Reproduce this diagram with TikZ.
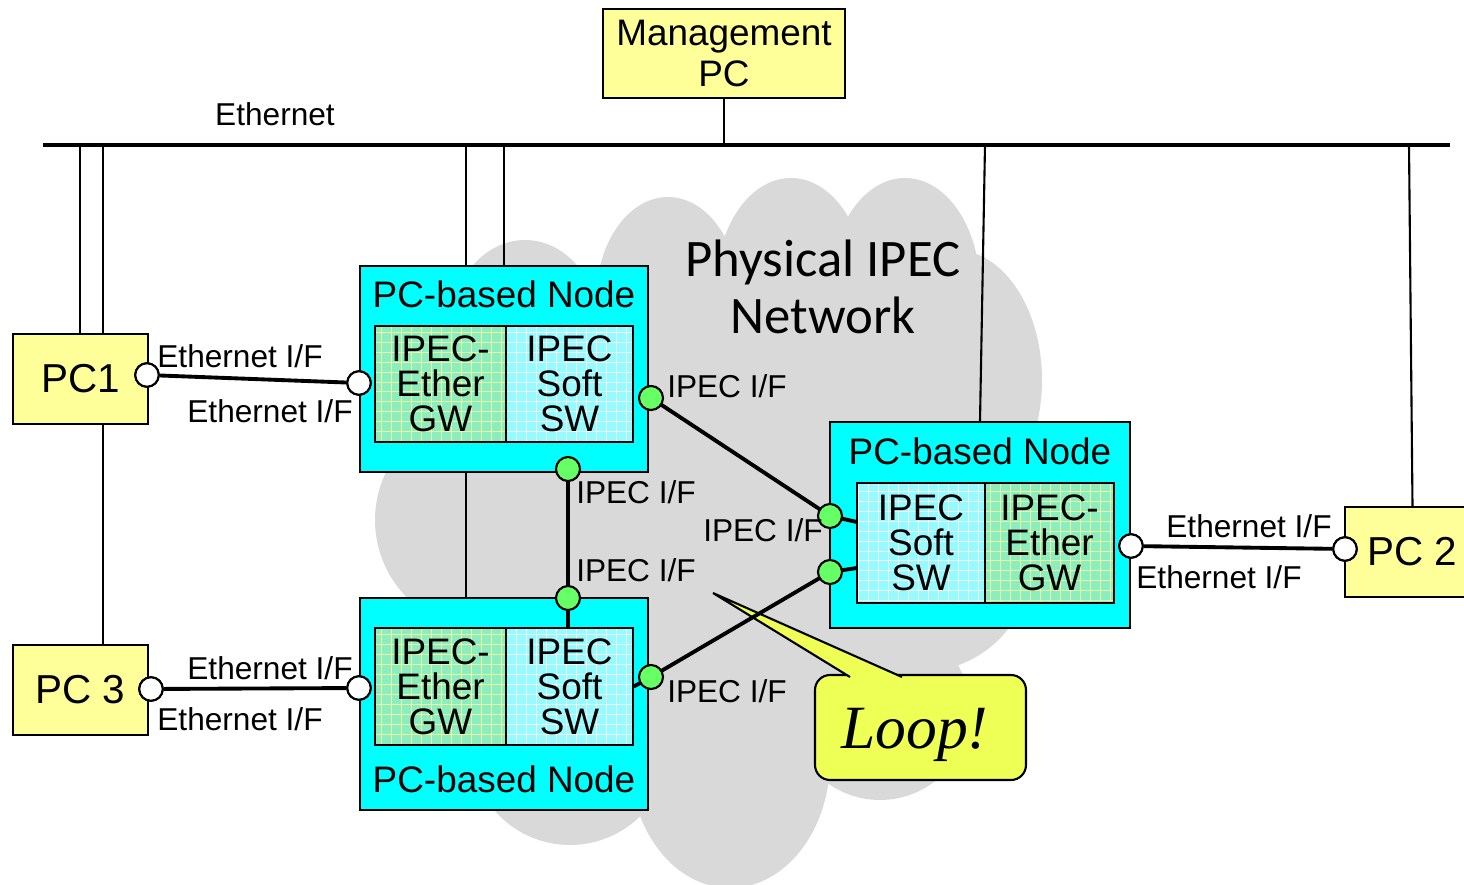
\documentclass[tikz,border=0pt]{standalone}
\usepackage{fontspec}
\setmainfont{Liberation Sans}
\newfontfamily\cloudfont{Carlito}
\newfontfamily\loopserif{Liberation Serif}

\definecolor{pcyellow}{RGB}{255,255,153}
\definecolor{nodecyan}{RGB}{0,255,255}
\definecolor{gwgreen}{RGB}{140,238,190}
\definecolor{gwgrid}{RGB}{235,250,160}
\definecolor{swcyan}{RGB}{150,250,255}
\definecolor{swgrid}{RGB}{235,255,255}
\definecolor{portgreen}{RGB}{102,255,102}
\definecolor{cloudgray}{RGB}{217,217,217}
\definecolor{loopyellow}{RGB}{238,255,85}

\newcommand{\lblfnt}{\fontsize{18}{20}\selectfont}
\newcommand{\pcfnt}{\fontsize{23}{26}\selectfont}
\newcommand{\mgmtfnt}{\fontsize{21}{23}\selectfont}
\newcommand{\titlefnt}{\fontsize{21}{22}\selectfont}
\newcommand{\partfnt}{\fontsize{21}{20}\selectfont}
\newcommand{\netfnt}{\cloudfont\fontsize{30}{32.5}\selectfont}
\newcommand{\loopfnt}{\loopserif\itshape\fontsize{35}{38}\selectfont}

\tikzset{
  pcbox/.style={draw, line width=0.9pt, fill=pcyellow, align=center, inner sep=0pt},
  nodebox/.style={draw, line width=0.9pt, fill=nodecyan, inner sep=0pt},
  gwbox/.style={draw, line width=0.9pt, fill=gwgreen, align=center, font=\partfnt, inner sep=0pt,
    path picture={\draw[gwgrid, line width=0.4pt] (path picture bounding box.south west) grid[step=0.2cm] (path picture bounding box.north east);}},
  swbox/.style={draw, line width=0.9pt, fill=swcyan, align=center, font=\partfnt, inner sep=0pt,
    path picture={\draw[swgrid, line width=0.4pt] (path picture bounding box.south west) grid[step=0.2cm] (path picture bounding box.north east);}},
  titletxt/.style={font=\titlefnt, inner sep=0pt},
  lbl/.style={font=\lblfnt, inner sep=0pt},
  ethport/.style={circle, draw, line width=1.2pt, fill=white, minimum size=0.47cm, inner sep=0pt},
  ipecport/.style={circle, draw, line width=1.2pt, fill=portgreen, minimum size=0.48cm, inner sep=0pt},
  bus/.style={line width=2.8pt},
  drop/.style={line width=1.2pt},
  link/.style={line width=2.2pt},
  loopbox/.style={draw, line width=1.2pt, fill=loopyellow, rounded corners=0.3cm, inner sep=0pt}
}

\begin{document}
\begin{tikzpicture}[x=0.02cm, y=-0.02cm]
  \useasboundingbox (0,0) rectangle (1464,885);

  % cloud
  \fill[cloudgray] (525,330) ellipse [x radius=1.5cm, y radius=1.8cm]
                   (668,300) ellipse [x radius=1.44cm, y radius=2.06cm]
                   (791,288) ellipse [x radius=1.5cm, y radius=2.2cm]
                   (905,288) ellipse [x radius=1.5cm, y radius=2.2cm]
                   (955,380) ellipse [x radius=1.74cm, y radius=2.6cm]
                   (485,520) circle [radius=2.2cm]
                   (570,745) circle [radius=2cm]
                   (730,760) ellipse [x radius=2cm, y radius=2.56cm]
                   (880,710) circle [radius=1.8cm]
                   (920,560) circle [radius=2.24cm];
  \fill[cloudgray] (480,300) rectangle (930,760);
  \node[font=\netfnt, align=center, inner sep=0pt] (net) at (823,287) {Physical IPEC\\Network};

  % ethernet bus
  \coordinate (busL) at (43,145);
  \coordinate (busR) at (1450,145);
  \draw[bus] (busL) -- (busR);
  \node[lbl] (ether) at (275,114) {Ethernet};

  \coordinate (b1) at (80,145);
  \coordinate (b2) at (103,145);
  \coordinate (b3) at (466,145);
  \coordinate (b4) at (504,145);
  \coordinate (b6) at (985,145);
  \coordinate (b7) at (1409,145);

  % PCs
  \node[pcbox, font=\mgmtfnt, minimum width=4.84cm, minimum height=1.78cm] (mgmt) at (724,53.5) {Management\\PC};
  \node[pcbox, font=\pcfnt, minimum width=2.7cm, minimum height=1.8cm] (pc1) at (80.5,379) {PC1};
  \node[pcbox, font=\pcfnt, minimum width=2.7cm, minimum height=1.8cm] (pc3) at (80.5,690) {PC 3};
  \node[pcbox, font=\pcfnt, minimum width=2.7cm, minimum height=1.8cm] (pc2) at (1412.5,552) {PC 2};

  % PC-based nodes
  \node[nodebox, minimum width=5.76cm, minimum height=4.12cm] (n1) at (504,369) {};
  \node[nodebox, minimum width=5.76cm, minimum height=4.24cm] (n2) at (504,704) {};
  \node[nodebox, minimum width=6cm, minimum height=4.12cm] (n3) at (980,525) {};

  \draw[drop] (mgmt.south) -- (mgmt.south |- busL);
  \draw[drop] (b1) -- (b1 |- pc1.north);
  \draw[drop] (b2) -- (b2 |- pc1.north);
  \draw[drop] (pc1.south -| b2) -- (pc3.north -| b2);
  \draw[drop] (b3) -- (b3 |- n1.north);
  \draw[drop] (b4) -- (b4 |- n1.north);
  \draw[drop] (n1.south -| b3) -- (n2.north -| b3);
  \draw[drop] (b6) -- (n3.north);
  \draw[drop] (b7) -- (pc2.north);

  \node[gwbox, minimum width=2.62cm, minimum height=2.32cm] (gw1) at (440.5,384) {IPEC-\\Ether\\GW};
  \node[swbox, minimum width=2.54cm, minimum height=2.32cm] (sw1) at (569.5,384) {IPEC\\Soft\\SW};
  \node[gwbox, minimum width=2.62cm, minimum height=2.34cm] (gw2) at (440.5,686.5) {IPEC-\\Ether\\GW};
  \node[swbox, minimum width=2.54cm, minimum height=2.34cm] (sw2) at (569.5,686.5) {IPEC\\Soft\\SW};
  \node[swbox, minimum width=2.56cm, minimum height=2.4cm] (sw3) at (921,543) {IPEC\\Soft\\SW};
  \node[gwbox, minimum width=2.58cm, minimum height=2.4cm] (gw3) at (1049.5,543) {IPEC-\\Ether\\GW};

  \node[titletxt] (t1) at (504,294) {PC-based Node};
  \node[titletxt] (t2) at (504,779) {PC-based Node};
  \node[titletxt] (t3) at (980,451) {PC-based Node};

  % loop callout
  \node[loopbox, minimum width=4.22cm, minimum height=2.1cm] (loop) at (920.5,727.5) {};
  \coordinate (tip) at (713,593);
  \coordinate (pl) at (850,677);
  \coordinate (pr) at (902,677);
  \fill[loopyellow] (pl) -- (tip) -- (pr) -- cycle;
  \draw[line width=1.2pt] (pl) -- (tip) -- (pr);
  \node[font=\loopfnt, inner sep=0pt] (looptxt) at (915,735) {Loop!};

  % interfaces
  \node[ethport] (e1a) at (147,375) {};
  \node[ethport] (e1b) at (359,383) {};
  \node[ethport] (e3a) at (151,689) {};
  \node[ethport] (e3b) at (359,688) {};
  \node[ethport] (e2a) at (1131,546) {};
  \node[ethport] (e2b) at (1345,549) {};
  \coordinate (s3a) at (857,522);
  \coordinate (s3b) at (857,568);

  \draw[link] (e1a) -- (e1b);
  \draw[link] (e3a) -- (e3b);
  \draw[link] (e2a) -- (e2b);
  \draw[link] (651,398) coordinate (i1r) -- (830,516) coordinate (i3t) -- (s3a);
  \draw[link] (568,469) coordinate (i1b) -- (568,598) coordinate (i2t) -- (i2t |- sw2.north);
  \draw[link] (sw2.east) -- (651,677) coordinate (i2r) -- (830,572) coordinate (i3b) -- (s3b);

  \foreach \p in {i1r,i1b,i2t,i2r,i3t,i3b}
    \node[ipecport] at (\p) {};
  \foreach \p in {e1a,e1b,e3a,e3b,e2a,e2b}
    \node[ethport] at (\p) {};

  % labels
  \node[lbl] at (240,356) {Ethernet I/F};
  \node[lbl] at (270,411) {Ethernet I/F};
  \node[lbl] at (270,668) {Ethernet I/F};
  \node[lbl] at (240,719) {Ethernet I/F};
  \node[lbl] at (1249,526) {Ethernet I/F};
  \node[lbl] at (1219,577) {Ethernet I/F};
  \node[lbl] at (727,386) {IPEC I/F};
  \node[lbl] at (636,492) {IPEC I/F};
  \node[lbl] at (636,570) {IPEC I/F};
  \node[lbl] at (727,691) {IPEC I/F};
  \node[lbl] at (763,530) {IPEC I/F};
\end{tikzpicture}
\end{document}
